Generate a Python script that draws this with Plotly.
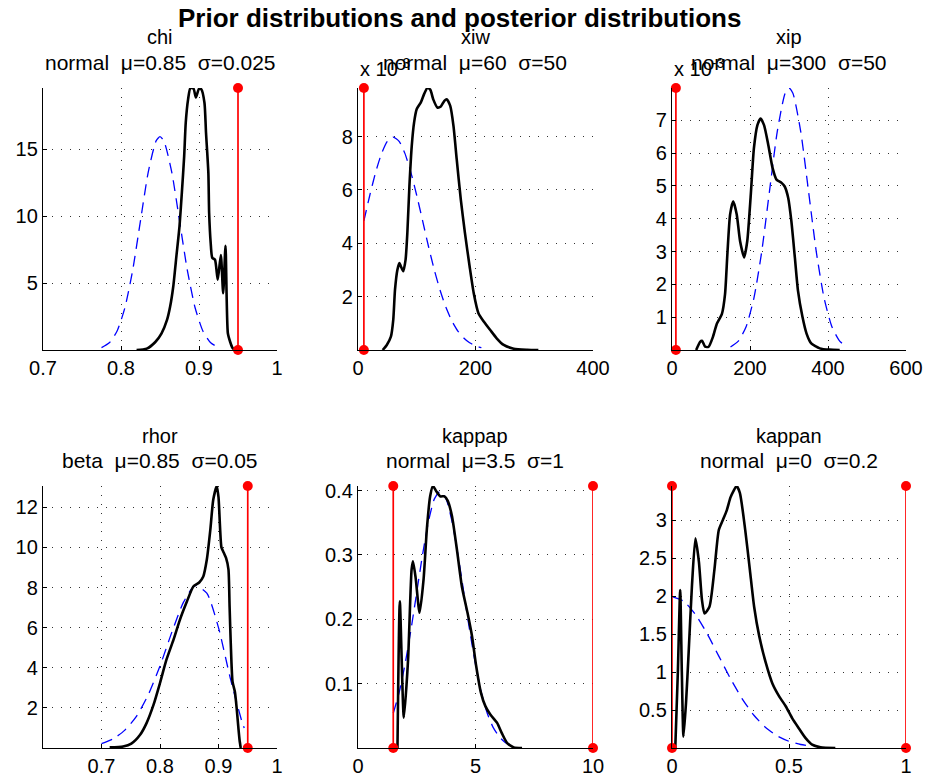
import plotly.graph_objects as go

FONT = "Liberation Sans, Arial, Helvetica, sans-serif"
W, H = 929, 784

# ---------------- data ----------------
# chi
chi_post_x = [0.820, 0.833, 0.844, 0.852, 0.859, 0.863, 0.867, 0.871, 0.875, 0.878, 0.881, 0.883,
              0.886, 0.889, 0.893, 0.896, 0.900, 0.903, 0.907, 0.909, 0.912, 0.913, 0.915, 0.917,
              0.9205, 0.924, 0.928, 0.931, 0.934, 0.937, 0.940, 0.943, 0.946]
chi_post_y = [0.0, 0.1, 0.6, 1.25, 2.25, 3.25, 4.75, 7.0, 9.25, 11.75, 14.5, 17.0,
              18.75, 19.6, 19.55, 18.9, 19.55, 19.5, 18.5, 16.25, 13.25, 10.25, 8.0, 6.9,
              6.75, 5.25, 7.1, 4.25, 7.8, 1.25, 0.6, 0.15, 0.0]
chi_prior_x = [0.775, 0.785, 0.795, 0.805, 0.815, 0.825, 0.835, 0.845, 0.85, 0.855, 0.865,
               0.875, 0.885, 0.895, 0.905, 0.915, 0.925]
chi_prior_y = [0.18, 0.54, 1.42, 3.16, 5.98, 9.68, 13.33, 15.64, 15.96, 15.64, 13.33,
               9.68, 5.98, 3.16, 1.42, 0.54, 0.18]
chi_bounds = [0.95]

# xiw (values in units of 1e-3)
xiw_post_x = [42, 49, 56, 60, 63, 67, 70.5, 73, 77, 81, 84, 87.5, 91.5, 95.5, 100, 107, 112.5, 118,
              123, 128, 135, 141, 147, 151, 157, 162.5, 168, 175, 182, 190, 197, 205, 214, 225,
              236, 248, 265, 288, 307]
xiw_post_y = [0, 0.19, 0.5, 1.13, 2.26, 3.0, 3.26, 3.13, 2.95, 3.39, 4.39, 6.14, 7.65, 8.53, 9.03,
              9.28, 9.59, 9.82, 9.76, 9.4, 9.09, 9.13, 9.34, 9.4, 9.15, 8.4, 7.15, 5.64, 4.39,
              3.13, 2.13, 1.38, 1.07, 0.75, 0.44, 0.19, 0.05, 0.01, 0]
xiw_prior_x = [10, 20, 30, 40, 50, 60, 70, 80, 90, 100, 110, 120, 130, 140, 150, 160, 170, 180,
               190, 200, 210]
xiw_prior_y = [4.84, 5.79, 6.66, 7.36, 7.82, 7.98, 7.82, 7.36, 6.66, 5.79, 4.84, 3.88, 2.99,
               2.22, 1.58, 1.08, 0.71, 0.45, 0.27, 0.16, 0.09]
xiw_bounds = [10]

# xip (values in units of 1e-3)
xip_post_x = [62, 72, 77, 85, 94, 105, 115, 128, 136, 142, 149, 157, 166, 174.5, 185, 193, 202,
              210, 219, 227, 236, 247, 258, 268, 281, 289, 298, 306, 315, 323, 334.5, 345, 357,
              379, 404, 430]
xip_post_y = [0, 0.25, 0.28, 0.1, 0.1, 0.4, 0.8, 1.1, 1.7, 2.92, 4.13, 4.53, 4.13, 3.32, 2.82,
              3.32, 4.73, 6.14, 6.85, 7.05, 6.85, 6.24, 5.54, 5.19, 5.09, 4.98, 4.63, 3.93, 2.82,
              1.81, 1.01, 0.5, 0.2, 0.05, 0.01, 0]
xip_prior_x = [150, 170, 190, 210, 230, 250, 270, 290, 300, 310, 330, 350, 370, 390, 410, 430, 450]
xip_prior_y = [0.09, 0.27, 0.71, 1.58, 2.99, 4.84, 6.66, 7.82, 7.98, 7.82, 6.66, 4.84, 2.99,
               1.58, 0.71, 0.27, 0.09]
xip_bounds = [10]

# rhor
rhor_post_x = [0.714, 0.737, 0.751, 0.766, 0.777, 0.789, 0.800, 0.811, 0.823, 0.834, 0.846,
               0.857, 0.867, 0.874, 0.880, 0.886, 0.891, 0.897, 0.900, 0.905, 0.908, 0.913,
               0.917, 0.919, 0.921, 0.924, 0.928, 0.931, 0.934, 0.936, 0.938]
rhor_post_y = [0.03, 0.08, 0.22, 0.66, 1.24, 2.16, 3.24, 4.40, 5.39, 6.39, 7.30,
               8.05, 8.25, 8.55, 9.38, 10.87, 12.37, 13.06, 12.5, 10.0, 9.8, 9.46,
               8.9, 7.0, 5.2, 3.3, 2.8, 2.0, 1.0, 0.4, 0.0]
rhor_prior_x = [0.70, 0.72, 0.74, 0.76, 0.78, 0.80, 0.82, 0.84, 0.86, 0.88, 0.90, 0.92, 0.94, 0.944]
rhor_prior_y = [0.22, 0.46, 0.89, 1.59, 2.66, 4.09, 5.75, 7.26, 8.10, 7.72, 6.00, 3.50, 1.32, 1.0]
rhor_bounds = [0.95]

# kappap
kappap_post_x = [1.68, 1.78, 1.95, 2.13, 2.28, 2.34, 2.45, 2.62, 2.79, 2.93, 3.07, 3.19, 3.33,
                 3.50, 3.68, 3.82, 4.00, 4.21, 4.42, 4.66, 4.85, 5.03, 5.23, 5.42, 5.63, 5.92,
                 6.12, 6.34, 6.63, 6.98]
kappap_post_y = [0.0, 0.228, 0.047, 0.137, 0.277, 0.29, 0.265, 0.21, 0.262, 0.34, 0.391, 0.407,
                 0.399, 0.391, 0.391, 0.384, 0.36, 0.308, 0.251, 0.21, 0.174, 0.127, 0.086,
                 0.065, 0.052, 0.039, 0.023, 0.008, 0.001, 0.0]
kappap_prior_x = [1.5, 1.75, 2.0, 2.25, 2.5, 2.75, 3.0, 3.25, 3.5, 3.75, 4.0, 4.25, 4.5, 4.75,
                  5.0, 5.25, 5.5, 5.75, 6.0, 6.25, 6.5]
kappap_prior_y = [0.054, 0.086, 0.130, 0.183, 0.242, 0.301, 0.352, 0.387, 0.399, 0.387, 0.352,
                  0.301, 0.242, 0.183, 0.130, 0.086, 0.054, 0.032, 0.018, 0.009, 0.004]
kappap_bounds = [1.5, 10]

# kappan
kappan_post_x = [0.014, 0.025, 0.035, 0.042, 0.049, 0.060, 0.071, 0.085, 0.100, 0.115, 0.128,
                 0.139, 0.160, 0.181, 0.200, 0.217, 0.234, 0.250, 0.262, 0.276, 0.290, 0.313,
                 0.333, 0.351, 0.373, 0.401, 0.429, 0.458, 0.486, 0.514, 0.542, 0.571, 0.599,
                 0.635, 0.698]
kappan_post_y = [0.0, 1.0, 2.08, 1.0, 0.15, 0.6, 1.25, 2.12, 2.76, 2.45, 1.95,
                 1.77, 1.86, 2.34, 2.87, 3.0, 3.13, 3.3, 3.38, 3.45, 3.36, 2.87,
                 2.34, 1.86, 1.47, 1.12, 0.85, 0.68, 0.55, 0.39, 0.26, 0.13, 0.044,
                 0.009, 0.0]
kappan_prior_x = [0, 0.05, 0.1, 0.15, 0.2, 0.25, 0.3, 0.35, 0.4, 0.45, 0.5, 0.55, 0.6]
kappan_prior_y = [1.995, 1.933, 1.760, 1.506, 1.210, 0.913, 0.648, 0.431, 0.270, 0.159,
                  0.088, 0.046, 0.022]
kappan_bounds = [0, 1]

names = ["chi", "xiw", "xip", "rhor", "kappap", "kappan"]
priors = ["normal  μ=0.85  σ=0.025", "normal  μ=60  σ=50", "normal  μ=300  σ=50",
          "beta  μ=0.85  σ=0.05", "normal  μ=3.5  σ=1", "normal  μ=0  σ=0.2"]
x_ranges = [[0.7, 1], [0, 400], [0, 600], [0.6, 1], [0, 10], [0, 1]]
x_ticks = [[0.7, 0.8, 0.9, 1], [0, 200, 400], [0, 200, 400, 600], [0.7, 0.8, 0.9, 1],
           [0, 5, 10], [0, 0.5, 1]]
x_ticktext = [["0.7", "0.8", "0.9", "1"], ["0", "200", "400"], ["0", "200", "400", "600"],
              ["0.7", "0.8", "0.9", "1"], ["0", "5", "10"], ["0", "0.5", "1"]]
y_ticks = [[5, 10, 15], [2, 4, 6, 8], [1, 2, 3, 4, 5, 6, 7], [2, 4, 6, 8, 10, 12],
           [0.1, 0.2, 0.3, 0.4], [0.5, 1, 1.5, 2, 2.5, 3]]
y_ticktext = [["5", "10", "15"], ["2", "4", "6", "8"], ["1", "2", "3", "4", "5", "6", "7"],
              ["2", "4", "6", "8", "10", "12"], ["0.1", "0.2", "0.3", "0.4"],
              ["0.5", "1", "1.5", "2", "2.5", "3"]]
scaled = [False, True, True, False, False, False]

posts = [(chi_post_x, chi_post_y), (xiw_post_x, xiw_post_y), (xip_post_x, xip_post_y),
         (rhor_post_x, rhor_post_y), (kappap_post_x, kappap_post_y), (kappan_post_x, kappan_post_y)]
prior_curves = [(chi_prior_x, chi_prior_y), (xiw_prior_x, xiw_prior_y), (xip_prior_x, xip_prior_y),
                (rhor_prior_x, rhor_prior_y), (kappap_prior_x, kappap_prior_y),
                (kappan_prior_x, kappan_prior_y)]
bounds = [chi_bounds, xiw_bounds, xip_bounds, rhor_bounds, kappap_bounds, kappan_bounds]

# ---------------- layout geometry (pixels) ----------------
col_px = [(43, 277), (358, 593), (672, 906)]
row_px = [(88, 350), (486, 748)]
title1_px = [37, 436]
title2_px = [62, 460]

fig = go.Figure()
annotations = []
layout = dict(
    template="none",
    width=W, height=H, margin=dict(l=0, r=0, t=0, b=0, pad=0, autoexpand=False),
    paper_bgcolor="white", plot_bgcolor="white", showlegend=False,
    font=dict(family=FONT, color="black", size=20),
)

for i in range(6):
    r, c = divmod(i, 3)
    sfx = "" if i == 0 else str(i + 1)
    xa, ya = "x" + sfx, "y" + sfx
    px_, py_ = posts[i]
    qx, qy = prior_curves[i]
    ymax = max(max(py_), max(qy))

    fig.add_trace(go.Scatter(x=qx, y=qy, xaxis=xa, yaxis=ya, mode="lines",
                             line=dict(color="#0000ff", width=1.3, dash="11px,7px", shape="spline",
                                       smoothing=0.6),
                             hoverinfo="skip"))
    fig.add_trace(go.Scatter(x=px_, y=py_, xaxis=xa, yaxis=ya, mode="lines",
                             line=dict(color="black", width=2.6, shape="spline", smoothing=0.6),
                             hoverinfo="skip"))
    for b in bounds[i]:
        fig.add_trace(go.Scatter(x=[b, b], y=[0, ymax], xaxis=xa, yaxis=ya, mode="lines+markers",
                                 line=dict(color="#ff0000", width=1.7),
                                 marker=dict(color="#ff0000", size=10),
                                 cliponaxis=False, hoverinfo="skip"))

    x0, x1 = col_px[c]
    t, btm = row_px[r]
    common = dict(showline=True, linecolor="black", linewidth=1.4, mirror=False,
                  ticks="inside", ticklen=4, tickwidth=1, tickcolor="black",
                  showgrid=True, gridcolor="#333333", gridwidth=1, griddash="1px,8px",
                  zeroline=False, automargin=False, layer="above traces",
                  tickfont=dict(family=FONT, size=20, color="black"))
    layout["xaxis" + sfx] = dict(domain=[x0 / W, x1 / W], range=x_ranges[i], anchor=ya,
                                 tickmode="array", tickvals=x_ticks[i], ticktext=x_ticktext[i],
                                 **common)
    layout["yaxis" + sfx] = dict(domain=[1 - btm / H, 1 - t / H], range=[0, ymax], anchor=xa,
                                 tickmode="array", tickvals=y_ticks[i], ticktext=y_ticktext[i],
                                 **common)

    cx = (x0 + x1) / 2 / W
    annotations.append(dict(text=names[i], x=cx, y=1 - title1_px[r] / H, xref="paper",
                            yref="paper", xanchor="center", yanchor="middle", showarrow=False,
                            font=dict(family=FONT, size=20, color="black")))
    annotations.append(dict(text=priors[i].replace("  ", " \u00a0"), x=cx, y=1 - title2_px[r] / H,
                            xref="paper", yref="paper", xanchor="center", yanchor="middle",
                            showarrow=False, font=dict(family=FONT, size=21, color="black")))
    if scaled[i]:
        annotations.append(dict(text="x 10<sup>-3</sup>", x=x0 / W, y=1 - 67 / H, xref="paper",
                                yref="paper", xanchor="left", yanchor="middle", showarrow=False,
                                font=dict(family=FONT, size=20, color="black")))

annotations.append(dict(text="<b>Prior distributions and posterior distributions</b>",
                        x=459 / W, y=1 - 18 / H, xref="paper", yref="paper", xanchor="center",
                        yanchor="middle", showarrow=False,
                        font=dict(family=FONT, size=26, color="black")))
layout["annotations"] = annotations
fig.update_layout(**layout)
fig.write_html("out.html")
